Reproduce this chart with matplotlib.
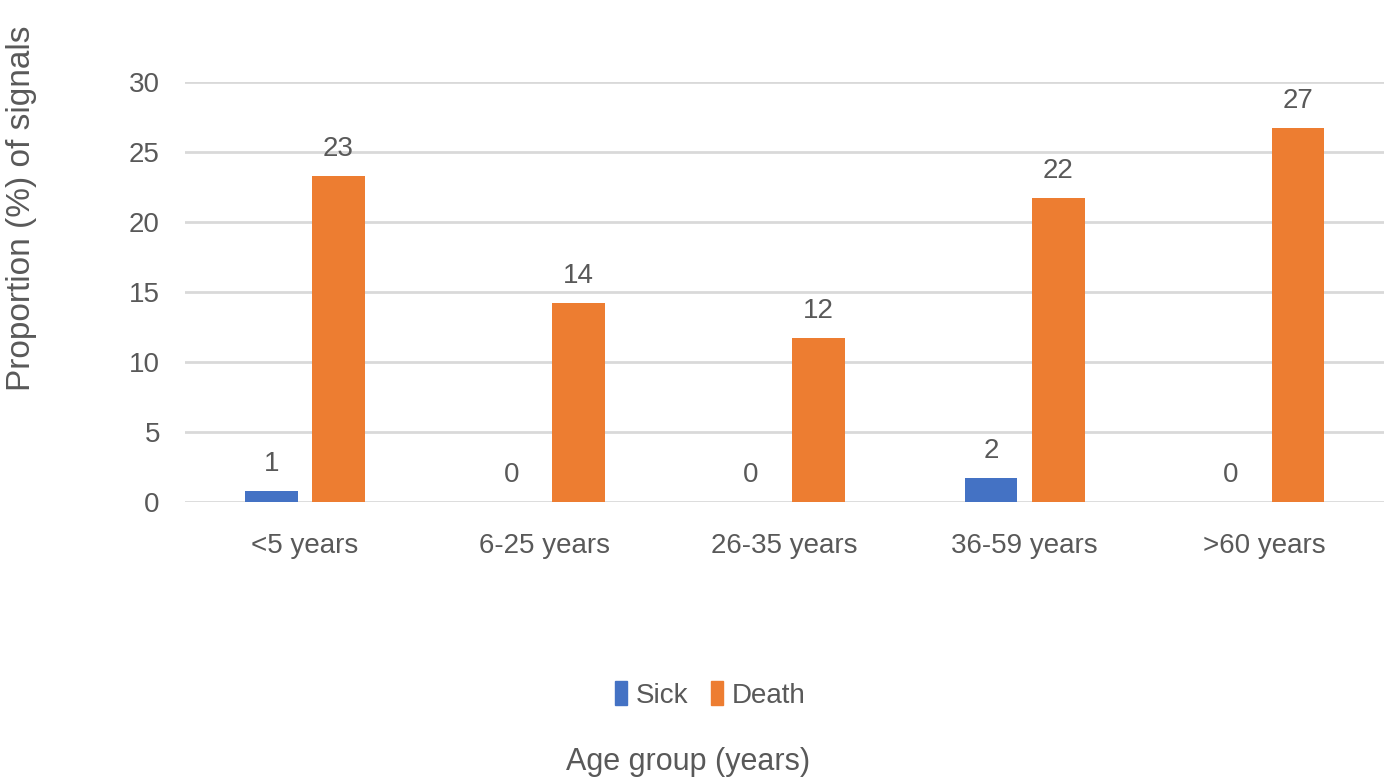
import numpy as np
import matplotlib
matplotlib.use("Agg")
import matplotlib.pyplot as plt
from matplotlib.patches import Patch

# data
age_groups = ['<5 years', '6-25 years', '26-35 years', '36-59 years', '>60 years']
sick = [0.8, 0.0, 0.0, 1.7, 0.0]
death = [23.3, 14.2, 11.7, 21.7, 26.7]
sick_labels = ['1', '0', '0', '2', '0']
death_labels = ['23', '14', '12', '22', '27']
y_ticks = [0, 5, 10, 15, 20, 25, 30]

blue = '#4472C4'
orange = '#ED7D31'
text_col = '#595959'
grid_col = '#D9D9D9'

plt.rcParams['font.family'] = ['Liberation Sans', 'DejaVu Sans']

fig = plt.figure(figsize=(13.9, 7.79), dpi=100)
ax = fig.add_axes([0.133, 0.3556, 0.863, 0.5391])

x = np.arange(len(age_groups))
w = 0.22
off = 0.14
b1 = ax.bar(x - off, sick, width=w, color=blue, zorder=3)
b2 = ax.bar(x + off, death, width=w, color=orange, zorder=3)

for rect, lab in zip(b1, sick_labels):
    ax.annotate(lab, (rect.get_x() + rect.get_width() / 2, rect.get_height()),
                xytext=(0, 10), textcoords='offset points', ha='center', va='bottom',
                fontsize=20, color=text_col, annotation_clip=False)
for rect, lab in zip(b2, death_labels):
    ax.annotate(lab, (rect.get_x() + rect.get_width() / 2, rect.get_height()),
                xytext=(0, 10), textcoords='offset points', ha='center', va='bottom',
                fontsize=20, color=text_col, annotation_clip=False)

ax.set_xlim(-0.5, len(age_groups) - 0.5)
ax.set_ylim(0, 30)
ax.set_yticks(y_ticks)
ax.set_xticks(x)
ax.set_xticklabels(age_groups)
ax.tick_params(axis='both', length=0, labelsize=20, labelcolor=text_col)
ax.tick_params(axis='x', pad=22)
ax.tick_params(axis='y', pad=18)
ax.grid(axis='y', color=grid_col, linewidth=2, zorder=0)
for s in ax.spines.values():
    s.set_visible(False)

fig.text(22 / 1390, 1 - 208 / 779, 'Proportion (%) of signals', rotation=90,
         ha='center', va='center', fontsize=24, color=text_col)

handles = [Patch(color=blue, label='Sick'), Patch(color=orange, label='Death')]
fig.legend(handles=handles, loc='center', bbox_to_anchor=(710 / 1390, 1 - 695 / 779),
           ncol=2, frameon=False, fontsize=20, handlelength=0.45, handleheight=0.9,
           handletextpad=0.3, columnspacing=0.8, labelcolor=text_col)

fig.text(688 / 1390, 1 - 762 / 779, 'Age group (years)', ha='center', va='center',
         fontsize=22, color=text_col)

fig.savefig('out.png', dpi=100)
